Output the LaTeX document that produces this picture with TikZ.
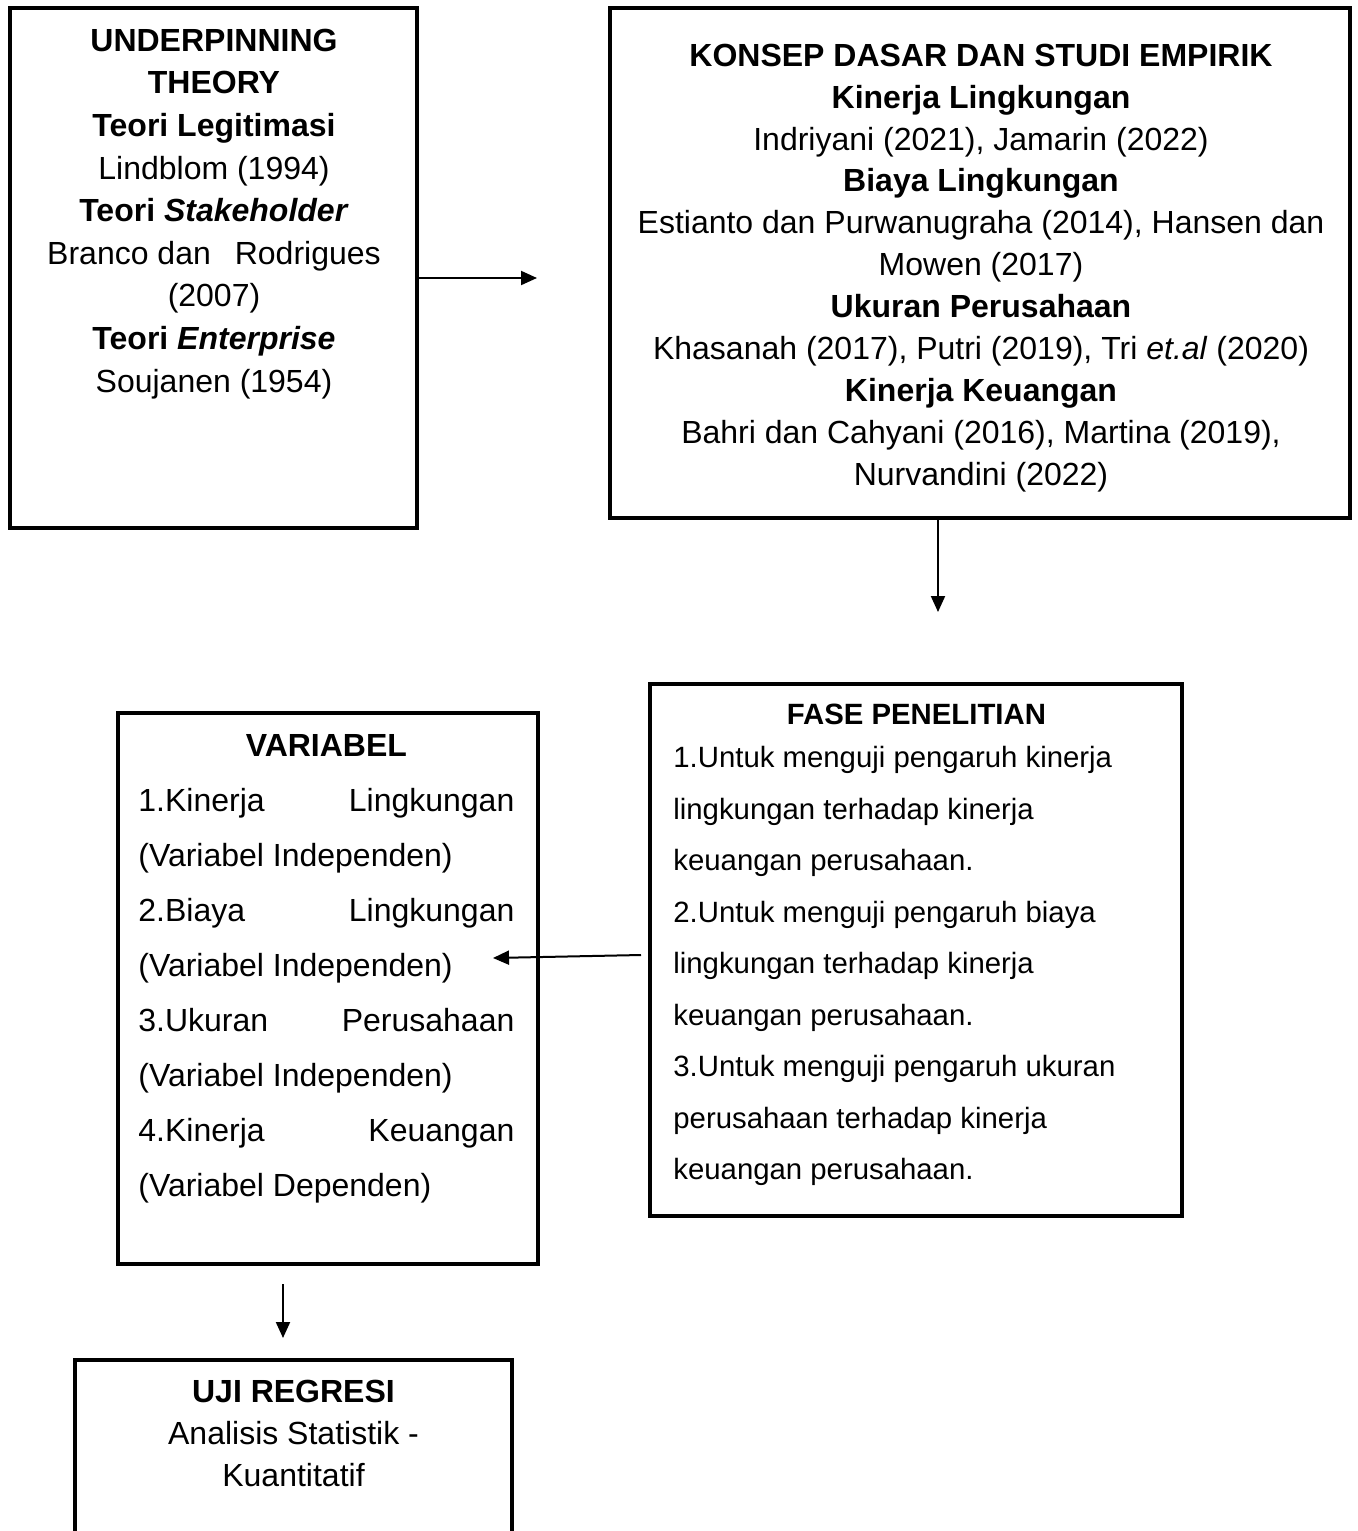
\documentclass[tikz,border=0pt]{standalone}
\usepackage{fontspec}
\setmainfont{Liberation Sans}
\usetikzlibrary{arrows.meta}

\begin{document}
\begin{tikzpicture}[x=0.5pt,y=-0.5pt,
  bx/.style n args={2}{draw,line width=2pt,minimum width=#1*0.5pt,minimum height=#2*0.5pt,inner sep=0pt,outer sep=0pt},
  txt/.style={anchor=north,inner sep=0pt,align=center,font=\fontsize{16}{#1}\selectfont},
  ar/.style={-{Triangle[length=8pt,width=7pt]},line width=1pt}]
\useasboundingbox (0,0) rectangle (1358,1531);
\clip (0,0) rectangle (1358,1531);
% boxes
\node[bx={407}{520}] (theory) at (213.5,268) {};
\node[bx={740}{510}] (konsep) at (980,263) {};
\node[bx={532}{532}] (fase) at (916,950) {};
\node[bx={420}{551}] (variabel) at (328,988.5) {};
\node[bx={437}{200}] (uji) at (293.5,1460) {};
% texts
\node[txt=21.3pt] (theoryT) at (214,28.5) {\textbf{UNDERPINNING}\\ \textbf{THEORY}\\ \textbf{Teori Legitimasi}\\ Lindblom (1994)\\
   \textbf{Teori \textit{Stakeholder}}\\ Branco dan\hspace{12pt}Rodrigues\\ (2007)\\ \textbf{Teori \textit{Enterprise}}\\ Soujanen (1954)};
\node[txt=20.95pt] (konsepT) at (981,43.5) {\textbf{KONSEP DASAR DAN STUDI EMPIRIK}\\ \textbf{Kinerja Lingkungan}\\
   Indriyani (2021), Jamarin (2022)\\ \textbf{Biaya Lingkungan}\\ Estianto dan Purwanugraha (2014), Hansen dan\\ Mowen (2017)\\
   \textbf{Ukuran Perusahaan}\\ Khasanah (2017), Putri (2019), Tri \textit{et.al} (2020)\\ \textbf{Kinerja Keuangan}\\
   Bahri dan Cahyani (2016), Martina (2019),\\ Nurvandini (2022)};
\node[txt=25.75pt,font=\fontsize{14.67}{25.75}\selectfont,anchor=north west,text width=243pt,align=flush left] (faseT) at (673,704) {\makebox[243pt]{\textbf{FASE PENELITIAN}}\\[-4.25pt]
   1.Untuk menguji pengaruh kinerja\\ lingkungan terhadap kinerja\\ keuangan perusahaan.\\
   2.Untuk menguji pengaruh biaya\\ lingkungan terhadap kinerja\\ keuangan perusahaan.\\
   3.Untuk menguji pengaruh ukuran\\ perusahaan terhadap kinerja\\ keuangan perusahaan.};
\node[txt=27.5pt,anchor=north west,text width=188pt,align=flush left] (variabelT) at (138,734.5) {\makebox[188pt]{\textbf{VARIABEL}}\\
   1.Kinerja\hfill Lingkungan\\ (Variabel Independen)\\ 2.Biaya\hfill Lingkungan\\ (Variabel Independen)\\
   3.Ukuran\hfill Perusahaan\\ (Variabel Independen)\\ 4.Kinerja\hfill Keuangan\\ (Variabel Dependen)};
\node[txt=21pt] (ujiT) at (293.5,1380) {\textbf{UJI REGRESI}\\ Analisis Statistik -\\ Kuantitatif};
% arrows
\coordinate (a1) at (537,278);
\coordinate (a2) at (938,612);
\coordinate (a3s) at (641,955);
\coordinate (a3) at (493,958);
\coordinate (a4s) at (283,1284);
\coordinate (a4) at (283,1338);
\draw[ar] (a1 -| theory.east) -- (a1);
\draw[ar] (a2 |- konsep.south) -- (a2);
\draw[ar] (a3s) -- (a3);
\draw[ar] (a4s) -- (a4);
\end{tikzpicture}
\end{document}
